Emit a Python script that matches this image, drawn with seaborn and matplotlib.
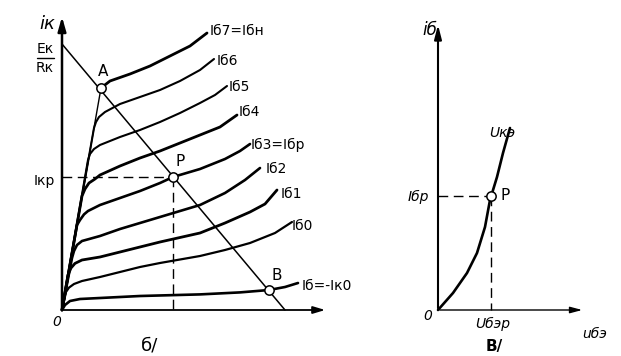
import numpy as np
import pandas as pd
import matplotlib
matplotlib.use("Agg")
import matplotlib.pyplot as plt
import seaborn as sns

sns.set_theme(style="white")
plt.rcParams['font.family'] = ['DejaVu Sans']

# ---------------- data (arbitrary units) ----------------
# б/ output characteristics: collector current i_k vs. u_ke for base currents
ib7_u = [1.95, 2.4, 3.4, 4.4, 5.4, 6.4, 7.25]
ib7_i = [11.1, 11.45, 11.8, 12.2, 12.7, 13.2, 13.85]
ib6_u = [0, 1.6, 1.7, 1.85, 2.15, 2.9, 3.9, 4.9, 5.9, 6.9, 7.6]
ib6_i = [0, 9.1, 9.4, 9.65, 9.9, 10.3, 10.65, 11.0, 11.45, 12.0, 12.55]
ib5_u = [0, 1.3, 1.4, 1.6, 1.9, 2.9, 3.9, 4.9, 5.9, 6.9, 7.65, 8.25]
ib5_i = [0, 7.5, 7.8, 8.05, 8.25, 8.65, 9.0, 9.4, 9.85, 10.35, 10.75, 11.2]
ib4_u = [0, 1.0, 1.15, 1.35, 1.65, 1.9, 2.9, 3.9, 4.9, 5.9, 6.9, 7.9, 8.75]
ib4_i = [0, 5.7, 6.05, 6.35, 6.55, 6.75, 7.2, 7.6, 7.95, 8.35, 8.75, 9.15, 9.75]
ib3_u = [0, 0.75, 0.9, 1.1, 1.3, 1.9, 2.9, 3.9, 4.9, 5.55, 6.9, 8.15, 8.9, 9.4]
ib3_i = [0, 4.25, 4.5, 4.78, 4.95, 5.25, 5.6, 5.95, 6.35, 6.65, 7.05, 7.55, 7.95, 8.3]
ib2_u = [0, 0.5, 0.6, 0.75, 1.0, 1.9, 2.9, 3.9, 4.9, 6.9, 8.15, 9.15, 9.9]
ib2_i = [0, 2.6, 2.95, 3.25, 3.45, 3.7, 4.05, 4.35, 4.65, 5.25, 5.85, 6.5, 7.1]
ib1_u = [0, 0.3, 0.45, 0.65, 1.0, 1.9, 2.9, 3.9, 4.9, 6.9, 8.15, 9.4, 10.15, 10.75]
ib1_i = [0, 1.75, 2.1, 2.33, 2.5, 2.65, 2.9, 3.15, 3.4, 3.85, 4.35, 4.9, 5.3, 6.0]
ib0_u = [0, 0.2, 0.35, 0.6, 1.0, 1.9, 3.9, 4.9, 6.9, 8.15, 9.4, 10.65, 11.5]
ib0_i = [0, 0.9, 1.12, 1.3, 1.45, 1.65, 2.15, 2.35, 2.7, 3.0, 3.35, 3.85, 4.4]
ibk0_u = [0, 0.15, 0.4, 0.9, 1.9, 3.9, 6.9, 8.9, 10.35, 11.15, 11.8]
ibk0_i = [0, 0.25, 0.45, 0.55, 0.6, 0.7, 0.78, 0.88, 1.0, 1.15, 1.35]

curve_labels = ["Iб7=Iбн", "Iб6", "Iб5", "Iб4", "Iб3=Iбр", "Iб2", "Iб1", "Iб0", "Iб=-Iк0"]

# load line: Ek/Rk on the current axis, Ek on the voltage axis
load_u = [0, 11.15]
load_i = [13.3, 0]
# saturation line from the origin to point A
sat_u = [0, 1.95]
sat_i = [0, 11.1]
# operating points
point_names = ["A", "P", "B"]
point_u = [1.95, 5.55, 10.35]
point_i = [11.1, 6.65, 1.0]

# в/ input characteristic: base current vs. u_бэ
ube = [0, 0.75, 1.45, 1.95, 2.35, 2.6, 2.95, 3.25, 3.6]
ib = [0, 0.85, 1.85, 2.85, 4.15, 5.5, 6.65, 7.85, 9.1]
ube_p = 2.65
ib_p = 5.7

# ---------------- figure ----------------
W, H = 621, 356
fig = plt.figure(figsize=(W / 100, H / 100), dpi=100)
fig.patch.set_facecolor("white")

S = 20.0  # pixels per data unit
# left axes: origin at pixel (62, 310)
axL = fig.add_axes([0, 0, 340 / W, 1])
axL.set_xlim((0 - 62) / S, (340 - 62) / S)
axL.set_ylim((310 - H) / S, 310 / S)
# right axes: origin at pixel (438, 310)
axR = fig.add_axes([390 / W, 0, (W - 390) / W, 1])
axR.set_xlim((390 - 438) / S, (W - 438) / S)
axR.set_ylim((310 - H) / S, 310 / S)


def pl(px, py):
    return (px - 62) / S, (310 - py) / S


def pr(px, py):
    return (px - 438) / S, (310 - py) / S


ink = "black"
dash = (0, (7, 4))
curves = [(ib7_u, ib7_i), (ib6_u, ib6_i), (ib5_u, ib5_i), (ib4_u, ib4_i), (ib3_u, ib3_i),
          (ib2_u, ib2_i), (ib1_u, ib1_i), (ib0_u, ib0_i), (ibk0_u, ibk0_i)]
widths = [2.0, 1.5, 1.5, 2.0, 1.9, 1.9, 2.0, 1.6, 1.9]
rows = []
for name, (u, i) in zip(curve_labels, curves):
    for k, (a, b) in enumerate(zip(u, i)):
        rows.append({"curve": name, "order": k, "u": a, "i": b})
df = pd.DataFrame(rows)
for name, lw in zip(curve_labels, widths):
    sub = df[df["curve"] == name]
    sns.lineplot(data=sub, x="u", y="i", sort=False, estimator=None, color=ink,
                 lw=lw, ax=axL, legend=False)

# saturation and load lines
sns.lineplot(x=sat_u, y=sat_i, sort=False, estimator=None, color=ink, lw=1.0, ax=axL)
sns.lineplot(x=load_u, y=load_i, sort=False, estimator=None, color=ink, lw=1.1, ax=axL)

# dashed projections of P
up, ip = point_u[1], point_i[1]
axL.plot([0, up], [ip, ip], color=ink, lw=1.0, ls=dash)
axL.plot([up, up], [ip, 0], color=ink, lw=1.0, ls=dash)

# operating points
sns.scatterplot(x=point_u, y=point_i, ax=axL, s=45, color="white", edgecolor=ink,
                linewidth=1.1, zorder=5, legend=False)

# axes with arrows
axL.annotate("", xy=pl(62, 14), xytext=pl(62, 311),
             arrowprops=dict(arrowstyle="-|>,head_length=0.7,head_width=0.2", lw=1.8, color=ink))
axL.annotate("", xy=pl(328, 310), xytext=pl(61, 310),
             arrowprops=dict(arrowstyle="-|>,head_length=0.6,head_width=0.18", lw=1.3, color=ink))

fs = 10
# curve labels
label_pos = [(210, 31), (217, 61), (229, 87), (239, 112), (251, 145),
             (266, 169), (281, 194), (292, 226), (302, 286)]
for name, (px, py) in zip(curve_labels, label_pos):
    axL.text(*pl(px, py), name, fontsize=fs, ha="left", va="center", color=ink)

axL.text(*pl(103, 71), "A", fontsize=11, ha="center", va="center", color=ink)
axL.text(*pl(180, 162), "P", fontsize=11, ha="center", va="center", color=ink)
axL.text(*pl(277, 276), "B", fontsize=11, ha="center", va="center", color=ink)
axL.text(*pl(47, 24), "iк", fontsize=13, style="italic", ha="center", va="center", color=ink)
axL.text(*pl(45, 49), "Eк", fontsize=10, ha="center", va="center", color=ink)
axL.plot([pl(37, 0)[0], pl(54, 0)[0]], [pl(0, 58)[1]] * 2, color=ink, lw=1.0)
axL.text(*pl(45, 68), "Rк", fontsize=10, ha="center", va="center", color=ink)
axL.text(*pl(44, 181), "Iкр", fontsize=10, ha="center", va="center", color=ink)
axL.text(*pl(57, 322), "0", fontsize=10, style="italic", ha="center", va="center", color=ink)
axL.text(*pl(150, 346), "б/", fontsize=13, ha="center", va="center", color=ink)

# ---------------- right: input characteristic ----------------
sns.lineplot(x=ube, y=ib, sort=False, estimator=None, color=ink, lw=1.9, ax=axR)
axR.plot([0, ube_p], [ib_p, ib_p], color=ink, lw=1.0, ls=dash)
axR.plot([ube_p, ube_p], [ib_p, 0], color=ink, lw=1.0, ls=dash)
sns.scatterplot(x=[ube_p], y=[ib_p], ax=axR, s=45, color="white", edgecolor=ink,
                linewidth=1.1, zorder=5, legend=False)
axR.annotate("", xy=pr(438, 22), xytext=pr(438, 311),
             arrowprops=dict(arrowstyle="-|>,head_length=0.7,head_width=0.18", lw=1.5, color=ink))
axR.annotate("", xy=pr(585, 310), xytext=pr(437, 310),
             arrowprops=dict(arrowstyle="-|>,head_length=0.6,head_width=0.16", lw=1.0, color=ink))

axR.text(*pr(430, 30), "iб", fontsize=12, style="italic", ha="center", va="center", color=ink)
axR.text(*pr(502, 133), "Uкэ", fontsize=10, style="italic", ha="center", va="center", color=ink)
axR.text(*pr(418, 197), "Iбр", fontsize=10, style="italic", ha="center", va="center", color=ink)
axR.text(*pr(505, 196), "P", fontsize=11, ha="center", va="center", color=ink)
axR.text(*pr(428, 316), "0", fontsize=10, style="italic", ha="center", va="center", color=ink)
axR.text(*pr(493, 324), "Uбэр", fontsize=10, style="italic", ha="center", va="center", color=ink)
axR.text(*pr(595, 334), "uбэ", fontsize=10, style="italic", ha="center", va="center", color=ink)
axR.text(*pr(494, 346), "В/", fontsize=11, fontweight="bold", ha="center", va="center", color=ink)

for ax in (axL, axR):
    ax.set_axis_off()

fig.savefig("out.png", dpi=100)
